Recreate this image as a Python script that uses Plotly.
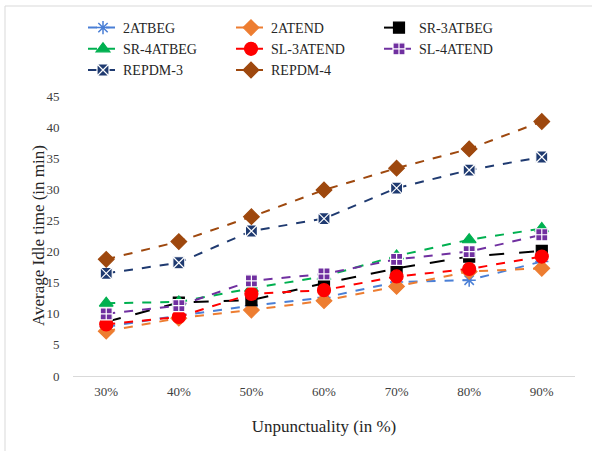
import plotly.graph_objects as go

categories = ["30%", "40%", "50%", "60%", "70%", "80%", "90%"]

s_2atbeg = [7.9, 9.7, 11.3, 12.6, 15.1, 15.4, 18.4]
s_2atend = [7.2, 9.3, 10.6, 12.1, 14.4, 16.8, 17.3]
s_sr3atbeg = [8.7, 11.8, 12.2, 14.9, 17.3, 19.2, 20.1]
s_sr4atbeg = [11.7, 11.9, 14.1, 16.0, 19.3, 21.9, 23.7]
s_sl3atend = [8.3, 9.5, 13.2, 13.8, 16.0, 17.2, 19.2]
s_sl4atend = [10.0, 11.3, 15.3, 16.4, 18.75, 20.0, 22.7]
s_repdm3 = [16.5, 18.2, 23.3, 25.3, 30.2, 33.1, 35.2]
s_repdm4 = [18.75, 21.6, 25.6, 29.9, 33.4, 36.5, 40.9]

y_ticks = [0, 5, 10, 15, 20, 25, 30, 35, 40, 45]

series = [
    ("2ATBEG", s_2atbeg, "#4A7FD6", "asterisk-open", 11, "dash", None),
    ("2ATEND", s_2atend, "#ED7D31", "diamond", 12, "dash", "#ED7D31"),
    ("SR-3ATBEG", s_sr3atbeg, "#000000", "square", 11, "longdash", "#000000"),
    ("SR-4ATBEG", s_sr4atbeg, "#00B050", "triangle-up", 12, "dash", "#00B050"),
    ("SL-3ATEND", s_sl3atend, "#FF0000", "circle", 13, "dash", "#FF0000"),
    ("SL-4ATEND", s_sl4atend, "#7030A0", "square-cross", 12, "dash", "#FFFFFF"),
    ("REPDM-3", s_repdm3, "#1F3A70", "square-x", 12, "dash", "#FFFFFF"),
    ("REPDM-4", s_repdm4, "#9E480E", "diamond", 12, "dash", "#9E480E"),
]

fig = go.Figure()
for name, vals, color, sym, size, dash, lc in series:
    if lc is None:
        marker = dict(symbol=sym, size=size, color=color, line=dict(color=color, width=1.5))
    else:
        marker = dict(symbol=sym, size=size, color=color, line=dict(color=lc, width=1.2))
    fig.add_trace(go.Scatter(
        x=categories, y=vals, name=name, mode="lines+markers",
        line=dict(color=color, width=2, dash=dash),
        marker=marker,
    ))

fig.update_layout(
    width=592, height=451,
    margin=dict(l=73, r=17, t=96, b=75, autoexpand=False),
    paper_bgcolor="white", plot_bgcolor="white",
    font=dict(family="Liberation Serif", color="#404040", size=13),
    showlegend=True,
    legend=dict(
        orientation="h", xref="container", yref="container",
        x=(83 / 592), y=1 - 12 / 451, xanchor="left", yanchor="top",
        entrywidth=103, font=dict(size=14, color="#262626"),
        bgcolor="rgba(0,0,0,0)", traceorder="normal",
    ),
    xaxis=dict(
        type="category", showgrid=False, showline=True, linecolor="#D9D9D9", linewidth=1,
        ticks="outside", ticklen=3, tickcolor="rgba(0,0,0,0)",
        tickfont=dict(size=13, color="#404040"),
        title=dict(text="Unpunctuality (in %)", font=dict(size=17, color="#262626"), standoff=22),
        zeroline=False, automargin=False,
    ),
    yaxis=dict(
        range=[0, 45], tickvals=y_ticks, showgrid=False, showline=False, zeroline=False,
        ticks="outside", ticklen=10, tickcolor="rgba(0,0,0,0)",
        tickfont=dict(size=13, color="#404040"),
        automargin=False,
    ),
    annotations=[dict(text="Average Idle time (in min)", xref="paper", yref="paper",
                      x=(38 - 73) / 502, y=0.5, textangle=-90, showarrow=False,
                      xanchor="center", yanchor="middle",
                      font=dict(size=17, color="#262626"))],
    shapes=[dict(type="rect", xref="paper", yref="paper",
                 x0=(5 - 73) / 502, x1=1.2, y0=-0.5, y1=(376 - 6) / 280,
                 line=dict(color="#D9D9D9", width=1), fillcolor="rgba(0,0,0,0)", layer="below")],
)

fig.write_html("out.html", config={"displayModeBar": False},
               post_script="document.body.style.margin='0';")
